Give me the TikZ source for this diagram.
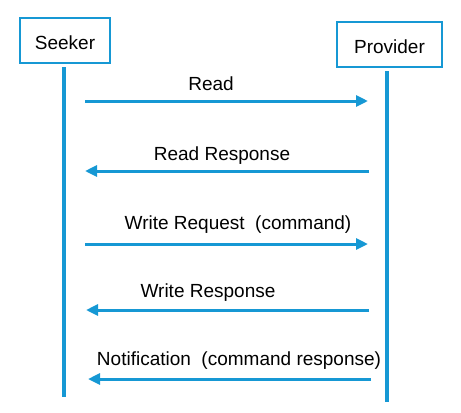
\documentclass[tikz,border=0pt]{standalone}
\usepackage{fontspec}
\setmainfont{Liberation Sans}
\usetikzlibrary{arrows.meta}
\definecolor{seqblue}{RGB}{22,152,212}
\tikzset{
  actor/.style={draw=seqblue, line width=2.2bp, fill=white, font=\fontsize{19bp}{22bp}\selectfont,
                text height=18bp, text depth=0bp, inner sep=0bp},
  lifeline/.style={draw=seqblue, line width=3.5bp},
  msg/.style={draw=seqblue, line width=3bp, -{Triangle[length=12bp,width=11bp]}},
  msglabel/.style={anchor=base, inner sep=0bp, font=\fontsize{19bp}{22bp}\selectfont}
}
\begin{document}
\begin{tikzpicture}[x=1bp, y=-1bp]
\useasboundingbox (0,0) rectangle (461,412);
% actors
\node[actor, minimum width=90bp, minimum height=45bp] (seeker) at (65,40.5) {Seeker};
\node[actor, minimum width=105bp, minimum height=45bp] (provider) at (389.5,44.5) {Provider};
% lifeline ends
\coordinate (sTop) at (64,67);
\coordinate (sBot) at (64,397);
\coordinate (pTop) at (387,71);
\coordinate (pBot) at (387,402);
\draw[lifeline] (sTop) -- (sBot);
\draw[lifeline] (pTop) -- (pBot);
% message end points
\coordinate (m1a) at (85,101);  \coordinate (m1b) at (368,101);
\coordinate (m2a) at (369,171); \coordinate (m2b) at (85,171);
\coordinate (m3a) at (85,244);  \coordinate (m3b) at (368,244);
\coordinate (m4a) at (369,310); \coordinate (m4b) at (86,310);
\coordinate (m5a) at (371,379); \coordinate (m5b) at (88,379);
\draw[msg] (m1a) -- (m1b);
\draw[msg] (m2a) -- (m2b);
\draw[msg] (m3a) -- (m3b);
\draw[msg] (m4a) -- (m4b);
\draw[msg] (m5a) -- (m5b);
% labels
\node[msglabel] (l1) at (211,90) {Read};
\node[msglabel] (l2) at (222,160) {Read Response};
\node[msglabel] (l3) at (238,229) {Write Request\ \ (command)};
\node[msglabel] (l4) at (208,297) {Write Response};
\node[msglabel] (l5) at (239,365) {Notification\ \ (command response)};
\end{tikzpicture}
\end{document}
